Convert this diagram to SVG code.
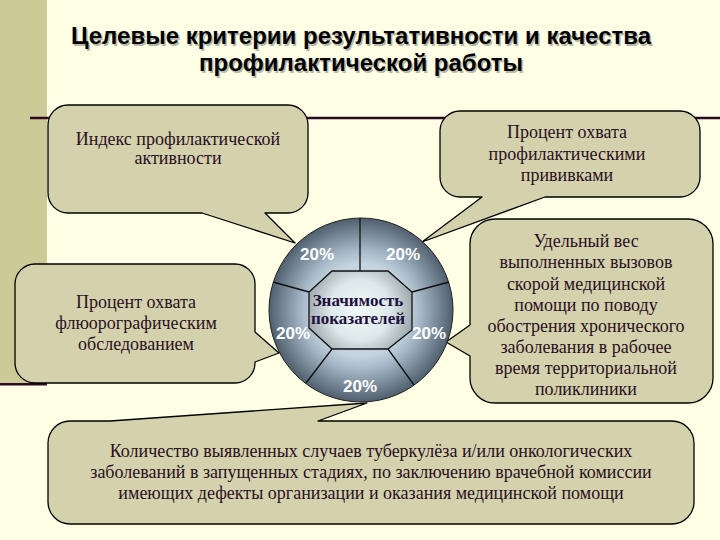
<svg xmlns="http://www.w3.org/2000/svg" width="720" height="540" viewBox="0 0 720 540">
<defs>
<radialGradient id="ring" cx="361" cy="310" r="92" gradientUnits="userSpaceOnUse">
<stop offset="0.5" stop-color="#c4d4e0"/>
<stop offset="0.65" stop-color="#a6b8c7"/>
<stop offset="1" stop-color="#4f5f6e"/>
</radialGradient>
<radialGradient id="oct" cx="360" cy="310" r="55" gradientUnits="userSpaceOnUse">
<stop offset="0" stop-color="#f2fafa"/>
<stop offset="0.55" stop-color="#dce8ea"/>
<stop offset="1" stop-color="#9aa4aa"/>
</radialGradient>
<style>
.bubble{fill:#d3d2ad;stroke:#000;stroke-width:1.3;stroke-linejoin:round}
.ct{font-family:"Liberation Serif","DejaVu Serif",serif;font-size:18px;fill:#2b0f1f;text-anchor:middle}
.pct{font-family:"Liberation Sans",Arial,sans-serif;font-weight:bold;font-size:17px;fill:#fff;text-anchor:middle}
.title{font-family:"Liberation Sans",Arial,sans-serif;font-weight:bold;font-size:24px;text-anchor:middle}
.div{stroke:#111;stroke-width:1.3}
</style>
</defs>
<rect x="0" y="0" width="720" height="540" fill="#ffffe5"/>
<rect x="0" y="0" width="47" height="384" fill="#ccca96"/>
<rect x="0" y="383" width="47" height="2.5" fill="#2e0c28"/>
<line x1="30" y1="118" x2="720" y2="118" stroke="#2a0a20" stroke-width="2.5"/>

<g id="title">
<text class="title" x="362.5" y="45.5" fill="#b8b8a8">Целевые критерии результативности и качества</text>
<text class="title" x="362.5" y="72.5" fill="#b8b8a8">профилактической работы</text>
<text class="title" x="361" y="44" fill="#000">Целевые критерии результативности и качества</text>
<text class="title" x="361" y="71" fill="#000">профилактической работы</text>
</g>

<g id="node-index">
<path class="bubble" d="M68,105 H288 A20,20 0 0 1 308,125 V193 A20,20 0 0 1 288,213 H265 L295,243 L202,213 H68 A20,20 0 0 1 48,193 V125 A20,20 0 0 1 68,105 Z"/>
<text class="ct" x="178" y="145">Индекс профилактической</text>
<text class="ct" x="178" y="164">активности</text>
</g>

<g id="node-vaccination">
<path class="bubble" d="M460,111 H680 A20,20 0 0 1 700,131 V177 A20,20 0 0 1 680,197 H545 L422,242 L482,197 H460 A20,20 0 0 1 440,177 V131 A20,20 0 0 1 460,111 Z"/>
<text class="ct" x="567" y="138">Процент охвата</text>
<text class="ct" x="567" y="159.5">профилактическими</text>
<text class="ct" x="567" y="181">прививками</text>
</g>

<g id="node-fluoro">
<path class="bubble" d="M35,264 H235 A20,20 0 0 1 255,284 V332 L279,353 L255,362 V363 A20,20 0 0 1 235,383 H35 A20,20 0 0 1 15,363 V284 A20,20 0 0 1 35,264 Z"/>
<text class="ct" x="136" y="308">Процент охвата</text>
<text class="ct" x="136" y="329">флюорографическим</text>
<text class="ct" x="136" y="350">обследованием</text>
</g>

<g id="node-emergency">
<path class="bubble" d="M495,219 H688 A25,25 0 0 1 713,244 V378 A25,25 0 0 1 688,403 H495 A25,25 0 0 1 470,378 V356 L446,342 L470,325 V244 A25,25 0 0 1 495,219 Z"/>
<text class="ct" x="586" y="247">Удельный вес</text>
<text class="ct" x="586" y="268">выполненных вызовов</text>
<text class="ct" x="586" y="289.5">скорой медицинской</text>
<text class="ct" x="586" y="310.5">помощи по поводу</text>
<text class="ct" x="586" y="332">обострения хронического</text>
<text class="ct" x="586" y="353">заболевания в рабочее</text>
<text class="ct" x="586" y="374">время территориальной</text>
<text class="ct" x="586" y="395">поликлиники</text>
</g>

<g id="node-tuberculosis">
<path class="bubble" d="M70,421 H110 L367,403 L318,421 H672 A22,22 0 0 1 694,443 V502 A22,22 0 0 1 672,524 H70 A22,22 0 0 1 48,502 V443 A22,22 0 0 1 70,421 Z"/>
<text class="ct" x="371" y="457">Количество выявленных случаев туберкулёза и/или онкологических</text>
<text class="ct" x="371" y="478">заболеваний в запущенных стадиях, по заключению врачебной комиссии</text>
<text class="ct" x="371" y="499">имеющих дефекты организации и оказания медицинской помощи</text>
</g>

<g id="node-center">
<circle cx="361" cy="310" r="92" fill="url(#ring)" stroke="#222" stroke-width="1"/>
<line class="div" x1="360" y1="218" x2="360" y2="271"/>
<line class="div" x1="309" y1="292" x2="273" y2="282"/>
<line class="div" x1="412" y1="292" x2="449" y2="282"/>
<line class="div" x1="332" y1="349" x2="306" y2="383"/>
<line class="div" x1="388" y1="349" x2="414" y2="385"/>
<polygon points="332,271 388,271 412,292 412,330 388,349 332,349 309,328 309,292" fill="url(#oct)" stroke="#111" stroke-width="1.3"/>
<text x="358" y="306" font-family="'Liberation Serif','DejaVu Serif',serif" font-weight="bold" font-size="17" fill="#1e1040" text-anchor="middle">Значимость</text>
<text x="358" y="324" font-family="'Liberation Serif','DejaVu Serif',serif" font-weight="bold" font-size="17" fill="#1e1040" text-anchor="middle">показателей</text>
<text class="pct" x="317" y="260">20%</text>
<text class="pct" x="403" y="260">20%</text>
<text class="pct" x="293" y="339">20%</text>
<text class="pct" x="429" y="339">20%</text>
<text class="pct" x="360" y="392">20%</text>
</g>
</svg>
